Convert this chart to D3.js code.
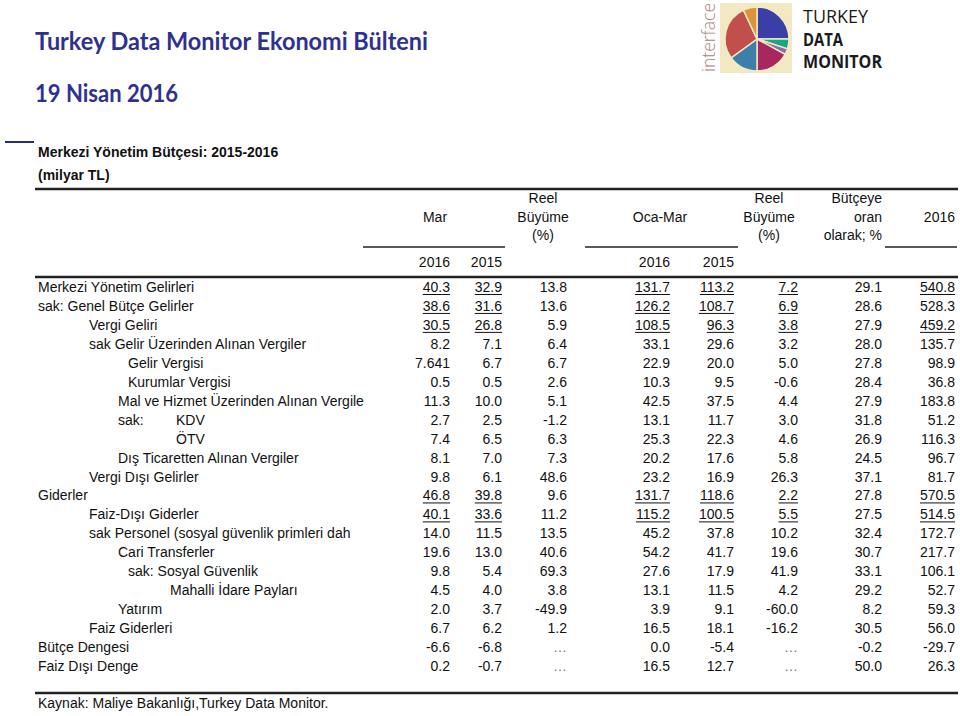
<!DOCTYPE html>
<html>
<head>
<meta charset="utf-8">
<script src="https://cdn.jsdelivr.net/npm/d3@7/dist/d3.min.js"></script>
<style>
  body { margin: 0; background: #fff; }
  svg text { font-family: Arial, "Liberation Sans", sans-serif; fill: #111; }
</style>
</head>
<body>
<script>
// --- table data (milyar TL) ---
const rowLabels = [
  "Merkezi Yönetim Gelirleri",
  "sak: Genel Bütçe Gelirler",
  "Vergi Geliri",
  "sak Gelir Üzerinden Alınan Vergiler",
  "Gelir Vergisi",
  "Kurumlar Vergisi",
  "Mal ve Hizmet Üzerinden Alınan Vergiler",
  "sak:\tKDV",
  "ÖTV",
  "Dış Ticaretten Alınan Vergiler",
  "Vergi Dışı Gelirler",
  "Giderler",
  "Faiz-Dışı Giderler",
  "sak Personel (sosyal güvenlik primleri dah",
  "Cari Transferler",
  "sak: Sosyal Güvenlik",
  "Mahalli İdare Payları",
  "Yatırım",
  "Faiz Giderleri",
  "Bütçe Dengesi",
  "Faiz Dışı Denge"
];
const rowLevels = [0, 0, 1, 1, 3, 3, 2, 2, 5, 2, 1, 0, 1, 1, 2, 3, 4, 2, 1, 0, 0];

const mar2016 = ["40.3","38.6","30.5","8.2","7.641","0.5","11.3","2.7","7.4","8.1","9.8","46.8","40.1","14.0","19.6","9.8","4.5","2.0","6.7","-6.6","0.2"];
const mar2015 = ["32.9","31.6","26.8","7.1","6.7","0.5","10.0","2.5","6.5","7.0","6.1","39.8","33.6","11.5","13.0","5.4","4.0","3.7","6.2","-6.8","-0.7"];
const marReal = ["13.8","13.6","5.9","6.4","6.7","2.6","5.1","-1.2","6.3","7.3","48.6","9.6","11.2","13.5","40.6","69.3","3.8","-49.9","1.2","…","…"];
const ytd2016 = ["131.7","126.2","108.5","33.1","22.9","10.3","42.5","13.1","25.3","20.2","23.2","131.7","115.2","45.2","54.2","27.6","13.1","3.9","16.5","0.0","16.5"];
const ytd2015 = ["113.2","108.7","96.3","29.6","20.0","9.5","37.5","11.7","22.3","17.6","16.9","118.6","100.5","37.8","41.7","17.9","11.5","9.1","18.1","-5.4","12.7"];
const ytdReal = ["7.2","6.9","3.8","3.2","5.0","-0.6","4.4","3.0","4.6","5.8","26.3","2.2","5.5","10.2","19.6","41.9","4.2","-60.0","-16.2","…","…"];
const budgetShare = ["29.1","28.6","27.9","28.0","27.8","28.4","27.9","31.8","26.9","24.5","37.1","27.8","27.5","32.4","30.7","33.1","29.2","8.2","30.5","-0.2","50.0"];
const budget2016 = ["540.8","528.3","459.2","135.7","98.9","36.8","183.8","51.2","116.3","96.7","81.7","570.5","514.5","172.7","217.7","106.1","52.7","59.3","56.0","-29.7","26.3"];

// rows with underlined totals
const totalRows = [0, 1, 2, 11, 12];
const budgetTotalRows = [0, 2, 11, 12];

// logo pie shares
const logoShares = [25, 5, 3, 17, 15, 28, 7];
const logoColors = ["#3b3ea6", "#19a588", "#8d6ba4", "#a7275e", "#3d7fa8", "#c1504d", "#d9953e"];

// --- layout ---
const width = 960, height = 716;
const svg = d3.select("body").append("svg")
  .attr("width", width).attr("height", height);

const columns = [
  { key: "mar2016", values: mar2016, under: totalRows },
  { key: "mar2015", values: mar2015, under: totalRows },
  { key: "marReal", values: marReal, under: [] },
  { key: "ytd2016", values: ytd2016, under: totalRows },
  { key: "ytd2015", values: ytd2015, under: totalRows },
  { key: "ytdReal", values: ytdReal, under: totalRows },
  { key: "budgetShare", values: budgetShare, under: [] },
  { key: "budget2016", values: budget2016, under: budgetTotalRows }
];

const x = d3.scaleOrdinal()
  .domain(columns.map(c => c.key))
  .range([450, 502, 567, 670, 734, 798, 882, 955]);
const levelX = d3.scaleOrdinal().domain([0, 1, 2, 3, 4, 5]).range([38, 89, 118, 128, 170, 176]);
const y = d3.scalePoint().domain(d3.range(rowLabels.length)).range([287, 666]);

// --- page header ---
svg.append("text").attr("x", 35).attr("y", 50)
  .attr("textLength", 393).attr("lengthAdjust", "spacingAndGlyphs")
  .style("font-family", "Lato, 'Open Sans', sans-serif")
  .style("font-weight", "bold").style("font-size", "24px").style("fill", "#2f3190")
  .text("Turkey Data Monitor Ekonomi Bülteni");
svg.append("text").attr("x", 35).attr("y", 102)
  .attr("textLength", 143).attr("lengthAdjust", "spacingAndGlyphs")
  .style("font-family", "Lato, 'Open Sans', sans-serif")
  .style("font-weight", "bold").style("font-size", "24px").style("fill", "#2f3190")
  .text("19 Nisan 2016");

// logo
const logo = svg.append("g");
logo.append("rect").attr("x", 720).attr("y", 3).attr("width", 72).attr("height", 70).attr("fill", "#f2e8c2");
const pie = d3.pie().sort(null)(logoShares);
const arc = d3.arc().innerRadius(0).outerRadius(32);
logo.append("g").attr("transform", "translate(757,39)")
  .selectAll("path").data(pie).join("path")
  .attr("d", arc)
  .attr("fill", (d, i) => logoColors[i])
  .attr("stroke", "#f2e8c2").attr("stroke-width", 1.5);
logo.append("text")
  .attr("transform", "translate(715,72) rotate(-90)")
  .attr("textLength", 69).attr("lengthAdjust", "spacingAndGlyphs")
  .style("font-family", "'Open Sans', sans-serif").style("font-weight", 300)
  .style("font-size", "18px").style("fill", "#ad7a80")
  .text("interface");
[["TURKEY", 23, "normal", 65], ["DATA", 46, "bold", 40], ["MONITOR", 68, "bold", 79]].forEach(d => {
  logo.append("text").attr("x", 803).attr("y", d[1])
    .attr("textLength", d[3]).attr("lengthAdjust", "spacingAndGlyphs")
    .style("font-family", "'Open Sans', sans-serif").style("font-weight", d[2])
    .style("font-size", "18px").style("fill", "#1a1a1a")
    .text(d[0]);
});

// --- table title ---
svg.append("line").attr("x1", 5).attr("x2", 34).attr("y1", 142).attr("y2", 142)
  .attr("stroke", "#2a2a80").attr("stroke-width", 2);
svg.append("text").attr("x", 38).attr("y", 157)
  .style("font-weight", "bold").style("font-size", "14px")
  .text("Merkezi Yönetim Bütçesi: 2015-2016");
svg.append("text").attr("x", 38).attr("y", 180)
  .style("font-weight", "bold").style("font-size", "14px")
  .text("(milyar TL)");

// horizontal rules
[[189, 2.5], [277, 2.5], [693, 2.5]].forEach(r => {
  svg.append("line").attr("x1", 35).attr("x2", 958).attr("y1", r[0]).attr("y2", r[0])
    .attr("stroke", "#222").attr("stroke-width", r[1]);
});
[[363, 505], [585, 738], [885, 957]].forEach(r => {
  svg.append("line").attr("x1", r[0]).attr("x2", r[1]).attr("y1", 247).attr("y2", 247)
    .attr("stroke", "#222").attr("stroke-width", 1.5);
});

// column headers
const head = svg.append("g").style("font-size", "14px");
function headText(tx, ty, anchor, s) {
  head.append("text").attr("x", tx).attr("y", ty).attr("text-anchor", anchor).text(s);
}
headText(435, 222, "middle", "Mar");
headText(543, 203, "middle", "Reel");
headText(543, 222, "middle", "Büyüme");
headText(543, 240, "middle", "(%)");
headText(660, 222, "middle", "Oca-Mar");
headText(769, 203, "middle", "Reel");
headText(769, 222, "middle", "Büyüme");
headText(769, 240, "middle", "(%)");
headText(x("budgetShare"), 203, "end", "Bütçeye");
headText(x("budgetShare"), 222, "end", "oran");
headText(x("budgetShare"), 240, "end", "olarak; %");
headText(x("budget2016"), 222, "end", "2016");
headText(x("mar2016"), 267, "end", "2016");
headText(x("mar2015"), 267, "end", "2015");
headText(x("ytd2016"), 267, "end", "2016");
headText(x("ytd2015"), 267, "end", "2015");

// row labels (clipped like the spreadsheet cell)
svg.append("clipPath").attr("id", "labelClip")
  .append("rect").attr("x", 0).attr("y", 270).attr("width", 364).attr("height", 420);
const labelG = svg.append("g").attr("clip-path", "url(#labelClip)").style("font-size", "14px");
rowLabels.forEach((lab, i) => {
  const parts = lab.split("\t");
  labelG.append("text").attr("x", levelX(rowLevels[i])).attr("y", y(i) + 5).text(parts[0]);
  if (parts[1]) {
    labelG.append("text").attr("x", levelX(5)).attr("y", y(i) + 5).text(parts[1]);
  }
});

// numbers
const body = svg.append("g").style("font-size", "14px");
columns.forEach(col => {
  col.values.forEach((v, i) => {
    const t = body.append("text")
      .attr("x", x(col.key)).attr("y", y(i) + 5)
      .attr("text-anchor", "end")
      .style("fill", v === "…" ? "#777" : "#111")
      .text(v);
    if (col.under.includes(i)) {
      const w = t.node().getComputedTextLength();
      body.append("line")
        .attr("x1", x(col.key) - w).attr("x2", x(col.key))
        .attr("y1", y(i) + 7.5).attr("y2", y(i) + 7.5)
        .attr("stroke", "#111").attr("stroke-width", 1);
    }
  });
});

// source
svg.append("text").attr("x", 38).attr("y", 708).style("font-size", "14px")
  .text("Kaynak: Maliye Bakanlığı,Turkey Data Monitor.");
</script>
</body>
</html>
